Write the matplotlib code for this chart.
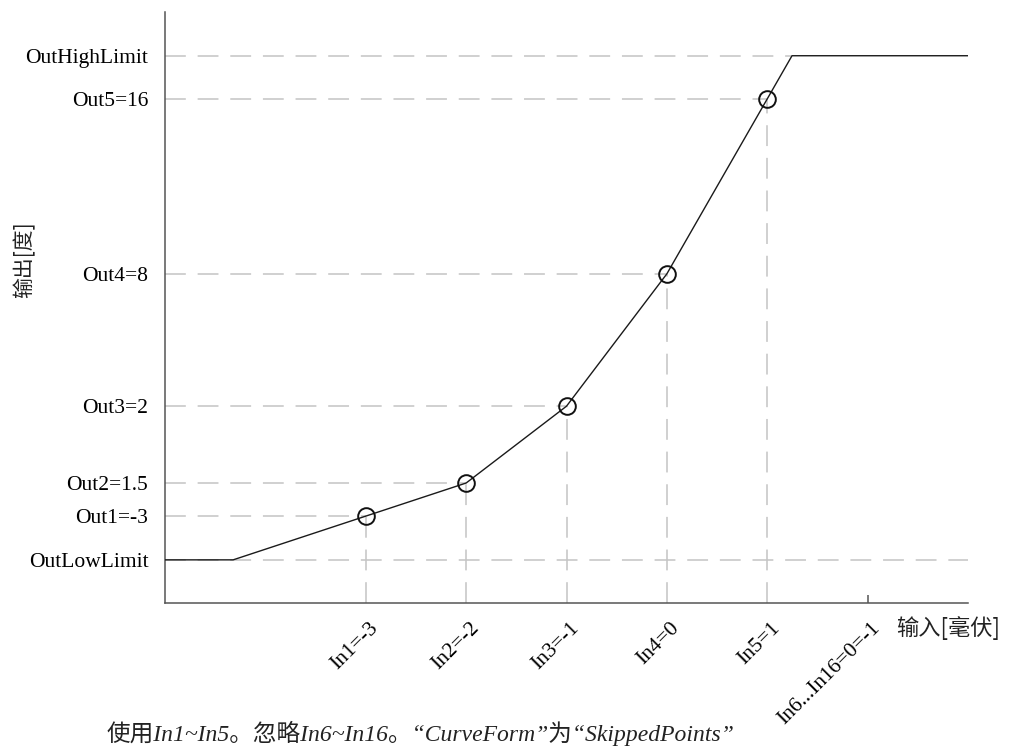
import numpy as np
import matplotlib
matplotlib.use("Agg")
import matplotlib.pyplot as plt
from matplotlib.transforms import ScaledTranslation

# ---- data (schematic positions) ----
in_pos = [1, 2, 3, 4, 5]                 # In1..In5 positions on the x scale
in6_pos = 6                              # In6...In16 position
out_pos = [14.7, 20.3, 33.3, 55.7, 85.3] # Out1..Out5 positions on the y scale
low_limit = 7.3
high_limit = 92.6
x_min, x_max = -1, 7
y_min, y_max = 0, 100

x_tick_labels = ["In1=-3", "In2=-2", "In3=-1", "In4=0", "In5=1", "In6...In16=0=-1"]
y_tick_labels = ["OutLowLimit", "Out1=-3", "Out2=1.5", "Out3=2", "Out4=8", "Out5=16", "OutHighLimit"]
x_label = "输入[毫伏]"
y_label = "输出[度]"
caption = "使用In1~In5。忽略In6~In16。“CurveForm”为“SkippedPoints”"

plt.rcParams['font.family'] = ['Liberation Serif', 'Noto Sans CJK SC', 'DejaVu Sans']
plt.rcParams['lines.scale_dashes'] = False

W, H = 1015, 752
fig = plt.figure(figsize=(W / 100, H / 100), dpi=100)
ax = fig.add_axes([165 / W, 1 - 603 / H, (968 - 165) / W, (603 - 12) / H])
ax.set_xlim(x_min, x_max)
ax.set_ylim(y_min, y_max)

grid_kw = dict(color='#c4c4c4', lw=1.1, dashes=(15, 8.5), zorder=1)

# extrapolate first and last segments to the limits
xs = np.array(in_pos, float)
ys = np.array(out_pos, float)
s0 = (ys[1] - ys[0]) / (xs[1] - xs[0])
x_low = xs[0] - (ys[0] - low_limit) / s0
s1 = (ys[-1] - ys[-2]) / (xs[-1] - xs[-2])
x_high = xs[-1] + (high_limit - ys[-1]) / s1

# dashed guide lines
ax.plot([x_min, x_max], [low_limit, low_limit], **grid_kw)
ax.plot([x_min, x_high], [high_limit, high_limit], **grid_kw)
for xv, yv in zip(in_pos, out_pos):
    ax.plot([x_min, xv], [yv, yv], **grid_kw)
    ax.plot([xv, xv], [y_min, yv], **grid_kw)

# curve
cx = [x_min, x_low] + list(xs) + [x_high, x_max]
cy = [low_limit, low_limit] + list(ys) + [high_limit, high_limit]
ax.plot(cx, cy, color='#1a1a1a', lw=1.0, zorder=3)
ax.plot(xs, ys, linestyle='none', marker='o', ms=12, mfc='none',
        mec='#111111', mew=1.4, zorder=4)

# spines
for s in ['top', 'right']:
    ax.spines[s].set_visible(False)
for s in ['left', 'bottom']:
    ax.spines[s].set_color('#555555')
    ax.spines[s].set_linewidth(1.1)

# y ticks
ax.set_yticks([low_limit] + out_pos + [high_limit])
ax.set_yticklabels(y_tick_labels, fontsize=15.5)
ax.tick_params(axis='y', length=0, pad=12)

# x ticks
ax.set_xticks(in_pos + [in6_pos])
ax.set_xticklabels(x_tick_labels, fontsize=15.5, rotation=45,
                   ha='right', va='center', rotation_mode='anchor')
ax.tick_params(axis='x', direction='in', length=6, width=1.1, color='#555555', pad=16)
for t in ax.xaxis.get_major_ticks()[:5]:
    t.tick1line.set_visible(False)
off = ScaledTranslation(10 / 100, 0, fig.dpi_scale_trans)
for lab in ax.get_xticklabels():
    lab.set_transform(lab.get_transform() + off)

# axis labels
ax.set_xlabel(x_label, fontsize=16, family=['Noto Sans CJK SC'], color='#222222')
ax.xaxis.set_label_coords((948 - 165) / 803, (603 - 628) / 591)
ax.xaxis.label.set_va('center')
ax.set_ylabel(y_label, fontsize=15, family=['Noto Sans CJK SC'], color='#222222')
ax.yaxis.set_label_coords((24 - 165) / 803, (603 - 260) / 591)
ax.yaxis.label.set_va('center')

# caption
fig.text(107 / W, 1 - 733 / H, caption, fontsize=17, style='italic',
         ha='left', va='center', color='#222222')

fig.savefig("out.png", dpi=100)
